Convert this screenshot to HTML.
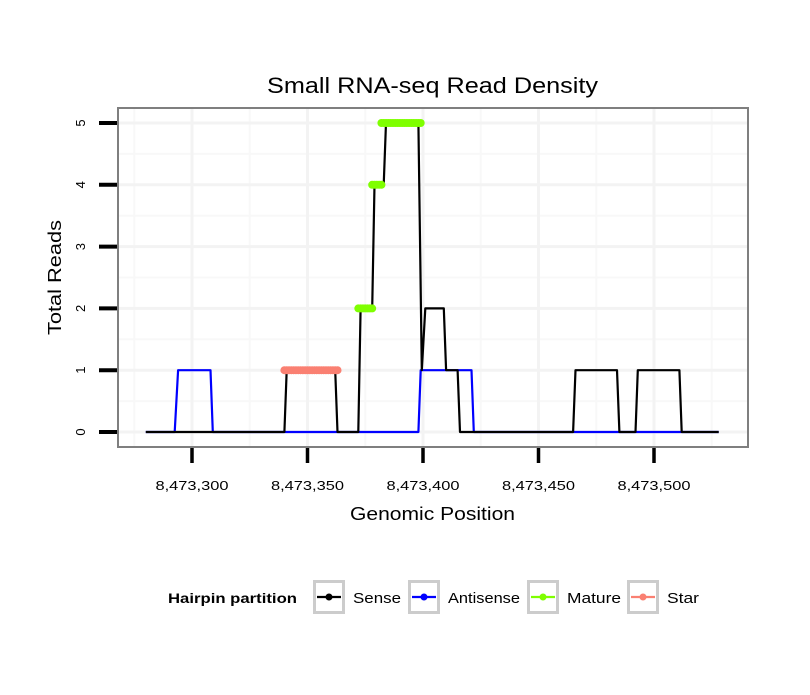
<!DOCTYPE html>
<html><head><meta charset="utf-8"><style>
body{margin:0;background:#fff;}
svg text{font-family:"Liberation Sans",sans-serif;}
</style></head><body>
<svg id="chart" width="810" height="690" xmlns="http://www.w3.org/2000/svg">
<rect width="810" height="690" fill="#fff"/>
<g id="grid"></g>
<g id="series"></g>
<rect x="118" y="108" width="630" height="339" fill="none" stroke="#7f7f7f" stroke-width="2"/>
<g id="axes"></g>
<text x="267" y="93" font-size="22" textLength="331" lengthAdjust="spacingAndGlyphs">Small RNA-seq Read Density</text>
<text x="350" y="520" font-size="18" textLength="165" lengthAdjust="spacingAndGlyphs">Genomic Position</text>
<text transform="translate(61,335) rotate(-90)" font-size="18" textLength="115" lengthAdjust="spacingAndGlyphs">Total Reads</text>
<g id="legend">
<text x="168" y="603" font-size="14" font-weight="bold" textLength="129" lengthAdjust="spacingAndGlyphs">Hairpin partition</text>
</g>
</svg>
<script>
const xTicks=[8473300,8473350,8473400,8473450,8473500];
const yTicks=[0,1,2,3,4,5];
const sensePos=[8473280,8473340,8473341,8473362,8473363,8473372,8473373,8473378,8473379,8473383,8473384,8473398,8473399.5,8473401,8473409,8473410,8473415,8473416,8473465,8473466,8473484,8473485,8473492,8473493,8473511,8473512,8473528];
const senseVal=[0,0,1,1,0,0,2,2,4,4,5,5,1,2,2,1,1,0,0,1,1,0,0,1,1,0,0];
const antiPos=[8473280,8473292.5,8473294,8473308,8473309,8473398,8473399,8473421,8473422,8473528];
const antiVal=[0,0,1,1,0,0,1,1,0,0];
const maturePos=[8473372,8473373,8473374,8473375,8473376,8473377,8473378,8473378,8473379,8473380,8473381,8473382,8473382,8473383,8473384,8473385,8473386,8473387,8473388,8473389,8473390,8473391,8473392,8473393,8473394,8473395,8473396,8473397,8473398,8473399];
const matureVal=[2,2,2,2,2,2,2,4,4,4,4,4,5,5,5,5,5,5,5,5,5,5,5,5,5,5,5,5,5,5];
const starPos=[8473340,8473341,8473342,8473343,8473344,8473345,8473346,8473347,8473348,8473349,8473350,8473351,8473352,8473353,8473354,8473355,8473356,8473357,8473358,8473359,8473360,8473361,8473362,8473363];
const starVal=[1,1,1,1,1,1,1,1,1,1,1,1,1,1,1,1,1,1,1,1,1,1,1,1];
const legendLabels=["Sense","Antisense","Mature","Star"];
const legendColors=["#000000","#0000ff","#7fff00","#fa8072"];

const NS="http://www.w3.org/2000/svg";
function sx(v){return 192+(v-8473300)*(654-192)/200;}
function sy(v){return 432-v*(432-123)/5;}
function mk(tag,attrs,parent){const e=document.createElementNS(NS,tag);for(const k in attrs)e.setAttribute(k,attrs[k]);parent.appendChild(e);return e;}
const grid=document.getElementById('grid'),series=document.getElementById('series'),axes=document.getElementById('axes'),legend=document.getElementById('legend');
for(let i=-1;i<xTicks.length;i++){const v=xTicks[0]+25+i*50;const x=sx(v);if(x<118||x>748)continue;
 const l=mk('line',{x1:x,x2:x,y1:108,y2:447,stroke:'#f8f8f8','stroke-width':2},grid);
 
 }
for(let i=0;i<yTicks.length;i++){const y=sy(yTicks[i]+0.5);if(y<108)continue;
 const l=mk('line',{x1:118,x2:748,y1:y,y2:y,stroke:'#f8f8f8','stroke-width':2},grid);
 
 }
xTicks.forEach(t=>{const x=sx(t);
 const l=mk('line',{x1:x,x2:x,y1:108,y2:447,stroke:'#f3f3f3','stroke-width':3},grid);
 
 
 const tk=mk('line',{x1:x,x2:x,y1:448,y2:463,stroke:'#000','stroke-width':3.5},axes);
 
 
 const tx=mk('text',{x:x-36.5,y:490,'font-size':13,textLength:73,lengthAdjust:'spacingAndGlyphs'},axes);
 tx.textContent=t.toLocaleString('en-US');
 
 });
yTicks.forEach(t=>{const y=sy(t);
 const l=mk('line',{x1:118,x2:748,y1:y,y2:y,stroke:'#f3f3f3','stroke-width':3},grid);
 
 
 const tk=mk('line',{x1:99,x2:117,y1:y,y2:y,stroke:'#000','stroke-width':4},axes);
 
 
 const tx=mk('text',{transform:`translate(85,${y}) rotate(-90)`,'font-size':13,'text-anchor':'middle'},axes);
 tx.textContent=t;
 
 });
function path(px,pv,color,name){const d=px.map((p,i)=>(i?'L':'M')+sx(p).toFixed(1)+','+sy(pv[i]).toFixed(1)).join('');
 const e=mk('path',{d:d,fill:'none',stroke:color,'stroke-width':2.2,'stroke-linejoin':'round'},series);
 
 }
path(antiPos,antiVal,'#0000ff','antisense-line');
path(sensePos,senseVal,'#000000','sense-line');
function pts(px,pv,color,name){px.forEach((p,i)=>{const c=mk('circle',{cx:sx(p),cy:sy(pv[i]),r:4,fill:color},series);
 
 });}
pts(maturePos,matureVal,'#7fff00','mature-point');
pts(starPos,starVal,'#fa8072','star-point');
const boxX=[313,408,527,627];
const labW=[48,72,54,32];
legendLabels.forEach((lab,i)=>{const bx=boxX[i];
 const g=mk('g',{},legend);
 
 
 mk('rect',{x:bx+1.5,y:581.5,width:29,height:31,fill:'#fff',stroke:'#cccccc','stroke-width':3},g);
 mk('line',{x1:bx+4,x2:bx+28,y1:597,y2:597,stroke:legendColors[i],'stroke-width':2.2},g);
 mk('circle',{cx:bx+16,cy:597,r:3.5,fill:legendColors[i]},g);
 const t=mk('text',{x:bx+40,y:603,'font-size':15,textLength:labW[i],lengthAdjust:'spacingAndGlyphs'},g);t.textContent=lab;});
</script>
</body></html>
